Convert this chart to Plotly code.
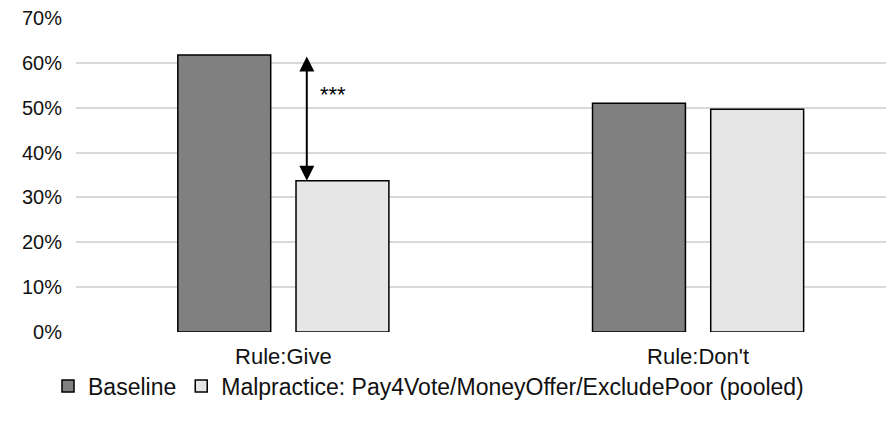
import plotly.graph_objects as go

categories = ["Rule:Give", "Rule:Don't"]
baseline = [0.6175, 0.510]
malpractice = [0.337, 0.4965]
series_names = ["Baseline", "Malpractice: Pay4Vote/MoneyOffer/ExcludePoor (pooled)"]
tick_vals = [0, 0.1, 0.2, 0.3, 0.4, 0.5, 0.6, 0.7]
tick_text = ["0%", "10%", "20%", "30%", "40%", "50%", "60%", "70%"]
sig_label = "***"

FONT = "Liberation Sans, Arial, sans-serif"
TXT = "#111111"

# page body has an 8px default margin, so the figure is sized to fit inside the window
W, H = 886, 414

fig = go.Figure()
fig.add_trace(go.Bar(x=categories, y=baseline, name=series_names[0],
                     marker=dict(color="#808080", line=dict(color="#000000", width=1.5))))
fig.add_trace(go.Bar(x=categories, y=malpractice, name=series_names[1],
                     marker=dict(color="#e6e6e6", line=dict(color="#000000", width=1.5))))

fig.add_annotation(x=0.0565, y=malpractice[0], ax=0.0565, ay=baseline[0],
                   xref="x", yref="y", axref="x", ayref="y",
                   text="", showarrow=True, arrowhead=2, startarrowhead=2,
                   arrowside="end+start", arrowsize=1.5, startarrowsize=1.5,
                   arrowwidth=2, arrowcolor="#000000")
fig.add_annotation(x=0.083, y=0.53, xref="x", yref="y",
                   text=sig_label, showarrow=False, xanchor="left", yanchor="middle",
                   font=dict(size=22, color="#000000", family=FONT))

fig.update_layout(
    width=W, height=H,
    margin=dict(l=68, r=1, t=10, b=90, autoexpand=False),
    paper_bgcolor="white", plot_bgcolor="white",
    barmode="group", bargap=0.43, bargroupgap=0.214,
    font=dict(family=FONT, size=21, color=TXT),
    showlegend=True,
    legend=dict(orientation="h", x=40 / W, xref="container", xanchor="left",
                y=(H - 378) / H, yref="container", yanchor="middle",
                bgcolor="rgba(0,0,0,0)",
                font=dict(size=23, color=TXT), itemwidth=30,
                traceorder="normal"),
    xaxis=dict(range=[-0.5, 1.47], showline=False, ticks="", showgrid=False,
               automargin=False, ticklabelstandoff=9, tickfont=dict(size=22)),
    yaxis=dict(range=[0, 0.7], tickvals=tick_vals, ticktext=tick_text,
               showgrid=True, gridcolor="#d9d9d9", gridwidth=1.5,
               zeroline=False, showline=False, ticks="", automargin=False,
               ticklabeloverflow="allow",
               ticklabelstandoff=13, tickfont=dict(size=20)),
)

fig.write_html("out.html")
